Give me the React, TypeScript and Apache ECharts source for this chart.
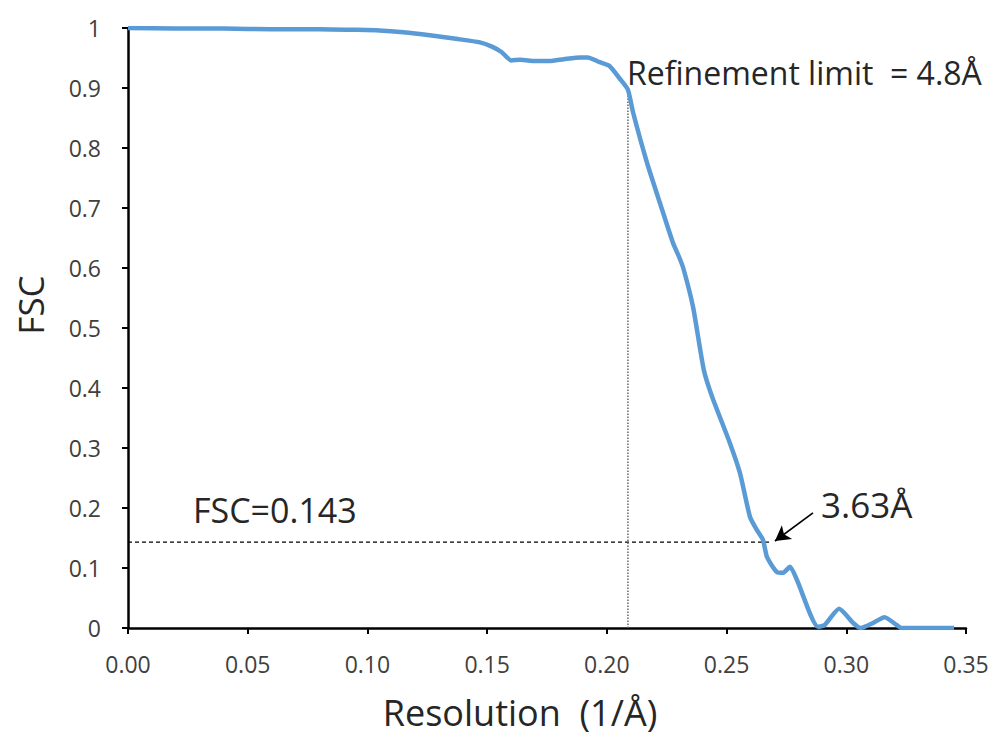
import React, { useEffect, useRef } from "react";
import * as echarts from "echarts";

// FSC curve (resolution in 1/Å, FSC value)
const resolution = [
  0, 0.02, 0.04, 0.06, 0.08, 0.095, 0.105, 0.115, 0.126, 0.137, 0.147, 0.152,
  0.156, 0.16, 0.164, 0.17, 0.176, 0.182, 0.189, 0.192, 0.197, 0.201, 0.2055,
  0.2088, 0.2109, 0.2168, 0.2222, 0.2276, 0.23, 0.2319, 0.236, 0.2405, 0.244,
  0.2514, 0.2556, 0.2598, 0.2627, 0.2652, 0.2669, 0.2711, 0.2736, 0.2765,
  0.2794, 0.2882, 0.291, 0.297, 0.303, 0.306, 0.311, 0.316, 0.321, 0.323,
  0.33, 0.345,
];
const fsc = [
  1, 0.999, 0.999, 0.998, 0.998, 0.997, 0.996, 0.993, 0.988, 0.982, 0.976,
  0.969, 0.96, 0.946, 0.947, 0.945, 0.945, 0.948, 0.951, 0.951, 0.943, 0.937,
  0.915, 0.897, 0.86, 0.775, 0.708, 0.642, 0.62, 0.6, 0.535, 0.43, 0.385,
  0.308, 0.258, 0.185, 0.163, 0.147, 0.118, 0.093, 0.092, 0.102, 0.08, 0.002,
  0.005, 0.032, 0.008, 0, 0.008, 0.018, 0.005, 0, 0, 0,
];

const fscThreshold = 0.143;
const thresholdEnd = 0.268;
const refinementLimit = 0.2088; // 1/4.8 Å
const refinementFsc = 0.9;
const arrowStart = [0.2861, 0.1917];
const arrowEnd = [0.2702, 0.145];

const xTicks = { min: 0, max: 0.35, interval: 0.05 };
const yTicks = { min: 0, max: 1, interval: 0.1 };

const labels = {
  refinement: "Refinement limit  = 4.8Å",
  threshold: "FSC=0.143",
  resolution: "3.63Å",
  xTitle: "Resolution  (1/Å)",
  yTitle: "FSC",
};

const FONT = '"Open Sans", "Noto Sans", sans-serif';

export default function App() {
  const ref = useRef<HTMLDivElement>(null);
  useEffect(() => {
    if (!ref.current) return;
    const chart = echarts.init(ref.current, undefined, { renderer: "svg" });
    const curve = resolution.map((r, i) => [r, fsc[i]]);
    chart.setOption({
      animation: false,
      backgroundColor: "#ffffff",
      grid: { left: 128, right: 31, top: 28, bottom: 109 },
      xAxis: {
        type: "value",
        min: xTicks.min,
        max: xTicks.max,
        interval: xTicks.interval,
        axisLine: { onZero: false, lineStyle: { color: "#000", width: 2.5 } },
        axisTick: { show: true, length: 6, lineStyle: { color: "#000", width: 2 } },
        splitLine: { show: false },
        axisLabel: {
          margin: 24,
          color: "#404040",
          fontSize: 23,
          fontFamily: FONT,
          formatter: (v: number) => v.toFixed(2),
        },
      },
      yAxis: {
        type: "value",
        min: yTicks.min,
        max: yTicks.max,
        interval: yTicks.interval,
        axisLine: { show: true, lineStyle: { color: "#000", width: 2.5 } },
        axisTick: { show: true, length: 6, lineStyle: { color: "#000", width: 2 } },
        splitLine: { show: false },
        axisLabel: {
          margin: 27,
          color: "#404040",
          fontSize: 23,
          fontFamily: FONT,
          formatter: (v: number) =>
            Math.abs(v - 1) < 1e-9 ? "1" : Math.abs(v) < 1e-9 ? "0" : v.toFixed(1),
        },
      },
      series: [
        {
          type: "line",
          data: [
            [xTicks.min, fscThreshold],
            [thresholdEnd, fscThreshold],
          ],
          symbol: "none",
          lineStyle: { color: "#000", width: 1.2, type: [4, 3] },
          z: 1,
        },
        {
          type: "line",
          data: [
            [refinementLimit, 0],
            [refinementLimit, refinementFsc],
          ],
          symbol: "none",
          lineStyle: { color: "#666", width: 1.5, type: [1.5, 1.5] },
          z: 1,
        },
        {
          type: "line",
          data: curve,
          symbol: "none",
          smooth: 0.2,
          lineStyle: { color: "#5B9BD5", width: 4.5 },
          z: 3,
          markLine: {
            silent: true,
            symbol: ["none", "arrow"],
            symbolSize: [13, 15],
            label: { show: false },
            lineStyle: { color: "#000", width: 1.6, type: "solid" },
            data: [[{ coord: arrowStart }, { coord: arrowEnd }]],
          },
        },
      ],
      graphic: [
        {
          type: "text",
          x: 627,
          y: 72,
          style: {
            text: labels.refinement,
            font: `32px ${FONT}`,
            fill: "#262626",
            verticalAlign: "middle",
          },
        },
        {
          type: "text",
          x: 193,
          y: 510,
          style: {
            text: labels.threshold,
            font: `34px ${FONT}`,
            fill: "#262626",
            verticalAlign: "middle",
          },
        },
        {
          type: "text",
          x: 821,
          y: 504,
          style: {
            text: labels.resolution,
            font: `35px ${FONT}`,
            fill: "#262626",
            verticalAlign: "middle",
          },
        },
        {
          type: "text",
          x: 520,
          y: 712,
          style: {
            text: labels.xTitle,
            font: `36px ${FONT}`,
            fill: "#262626",
            align: "center",
            verticalAlign: "middle",
          },
        },
        {
          type: "text",
          x: 30,
          y: 305,
          rotation: Math.PI / 2,
          style: {
            text: labels.yTitle,
            font: `35px ${FONT}`,
            fill: "#262626",
            align: "center",
            verticalAlign: "middle",
          },
        },
      ],
    });
    return () => chart.dispose();
  }, []);
  return <div ref={ref} style={{ width: 997, height: 737, position: "absolute", left: 0, top: 0 }} />;
}
